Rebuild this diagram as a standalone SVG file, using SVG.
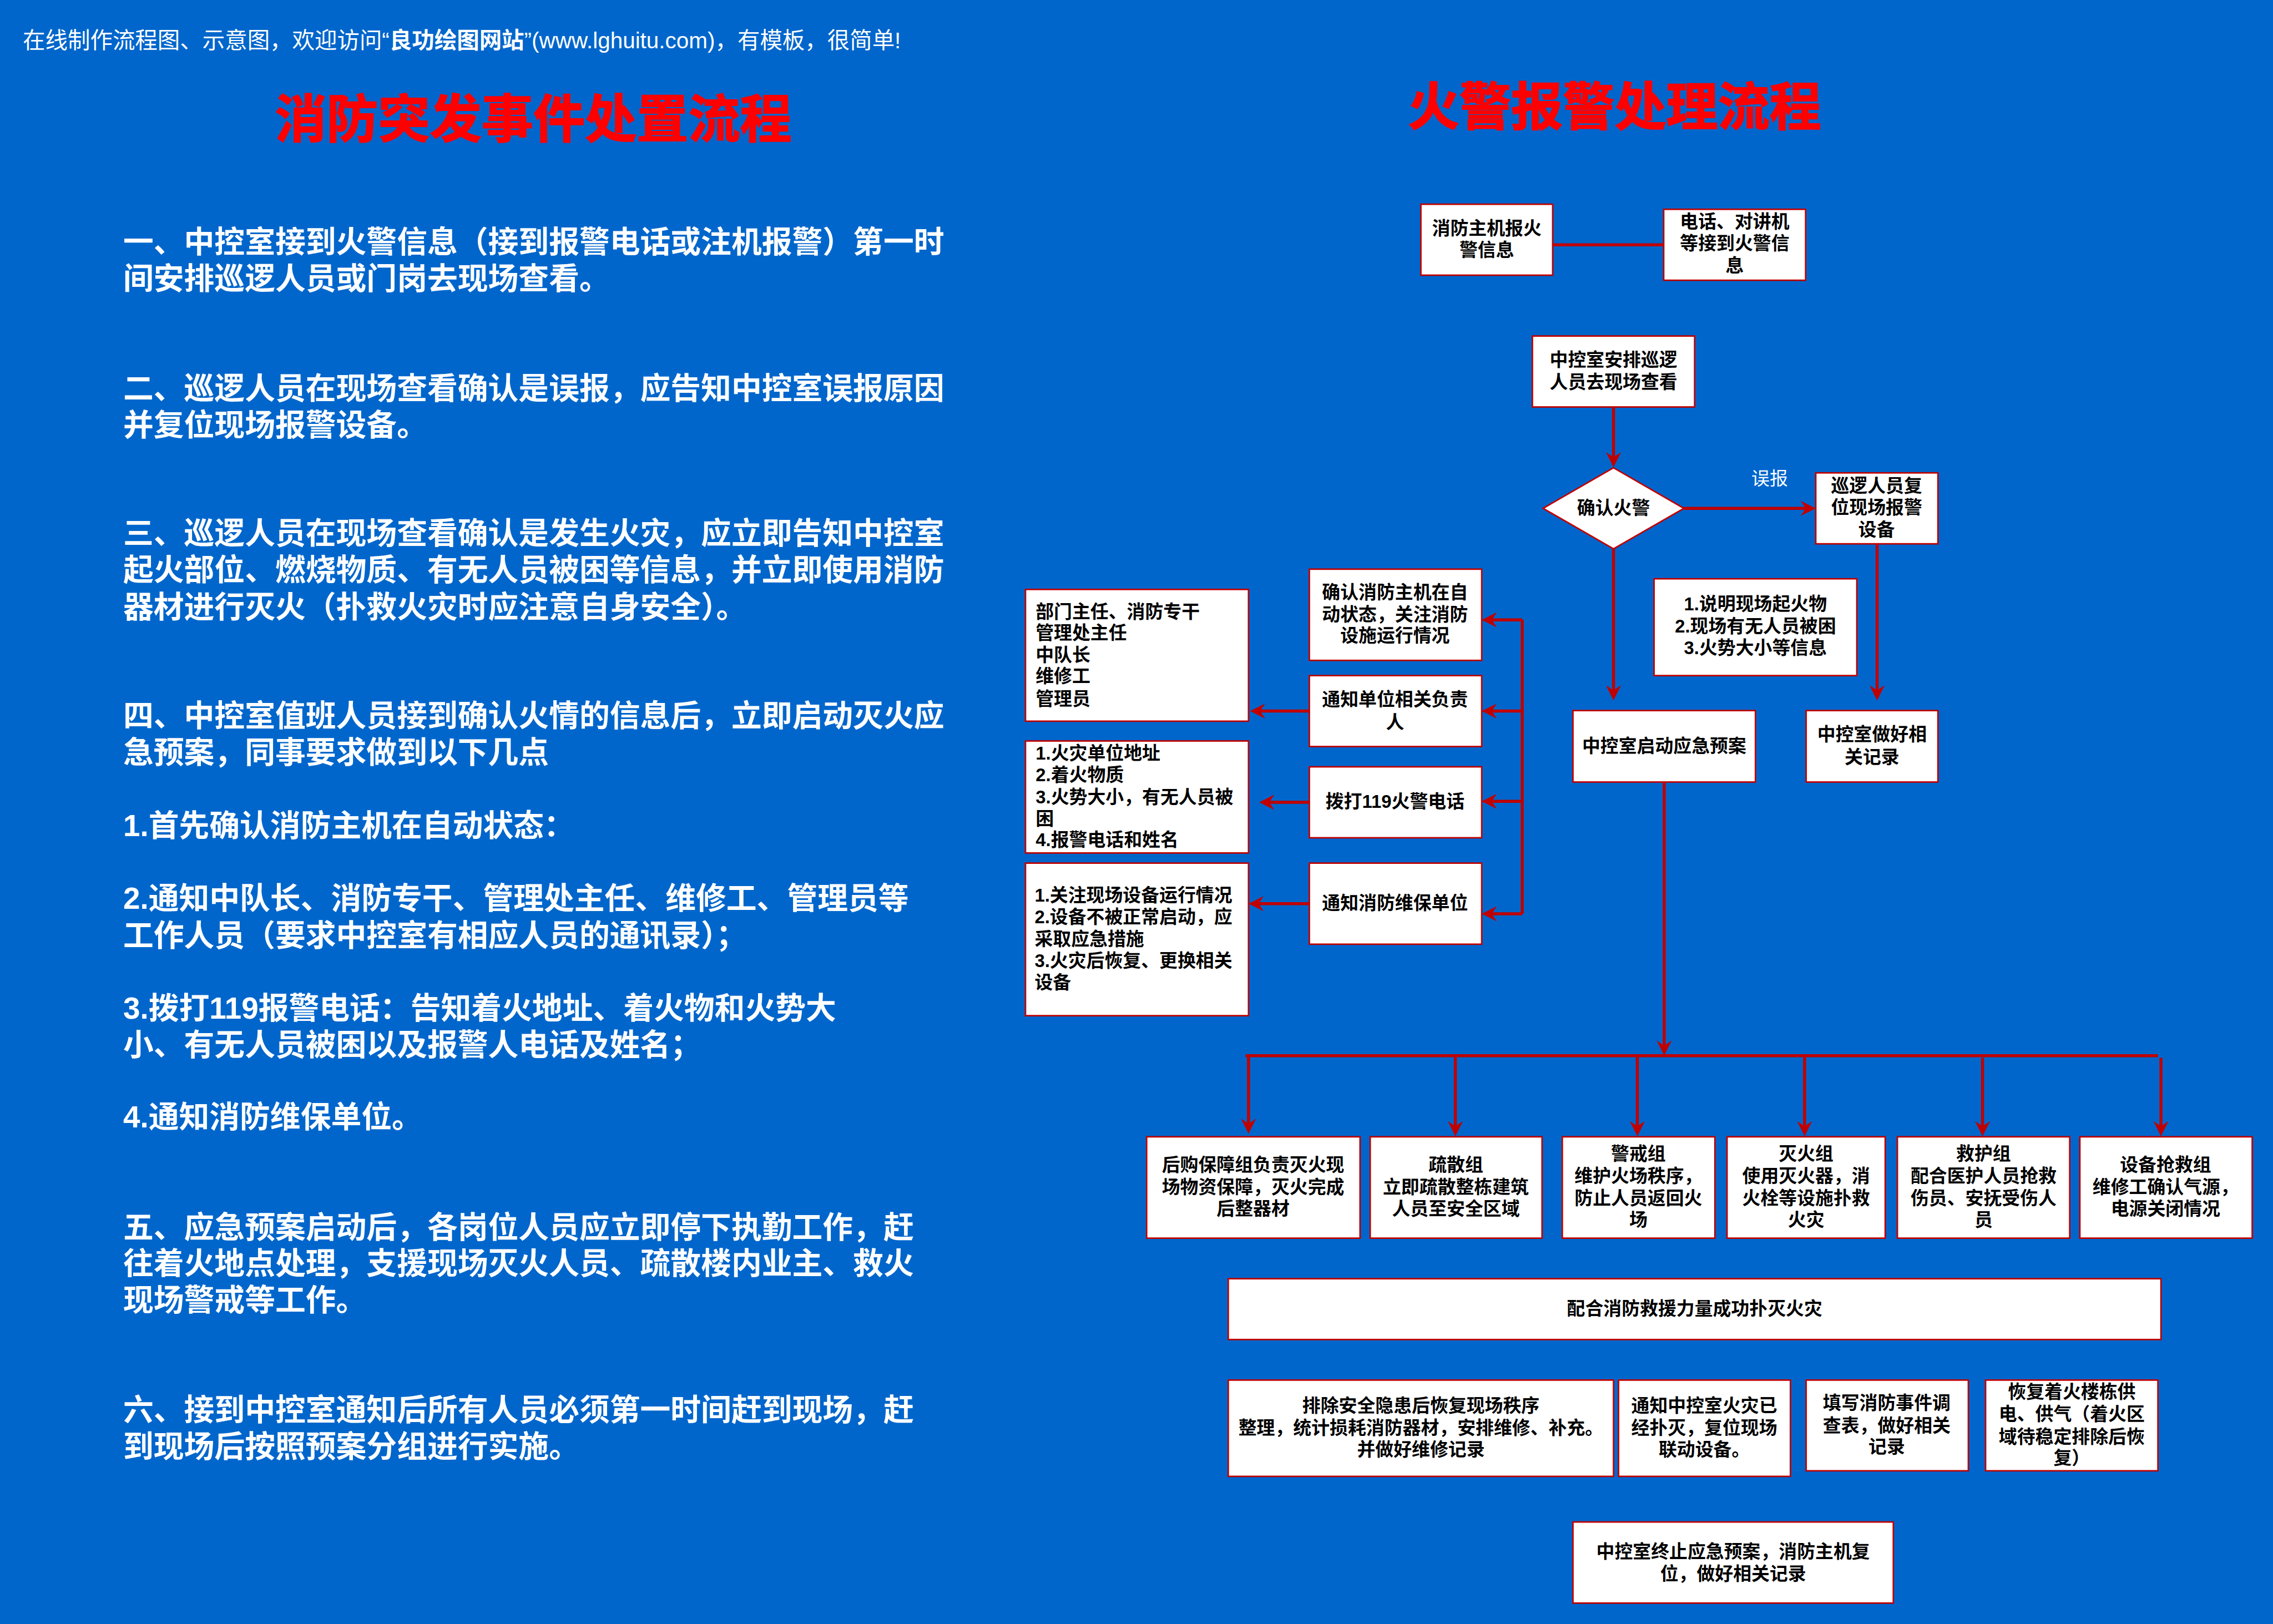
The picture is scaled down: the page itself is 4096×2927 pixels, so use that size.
<svg xmlns="http://www.w3.org/2000/svg" width="4096" height="2927" viewBox="0 0 4096 2927">
<style>
text{font-family:"Liberation Sans","Noto Sans CJK SC",sans-serif}
.b{fill:#fff;stroke:#c00000;stroke-width:3}
.t{font-size:36px;font-weight:700;fill:#000;text-anchor:middle}
.l{font-size:36px;font-weight:700;fill:#000}
.p{font-size:60px;font-weight:700;fill:#fff}
.h{font-size:102px;font-weight:700;fill:#f00;stroke:#f00;stroke-width:2;text-anchor:middle}
.c{fill:none;stroke:#c00000;stroke-width:6}
.a{marker-end:url(#ah)}
</style>
<defs><marker id="ah" markerUnits="userSpaceOnUse" markerWidth="34" markerHeight="34" refX="22" refY="17" orient="auto"><path d="M30 17L0 2L10 17L0 32Z" fill="#c00000"/></marker></defs>
<rect width="4096" height="2927" fill="#0066cc"/>
<g transform="scale(0.91347)">
<g id="header"><text x="45" y="95" font-size="44.3" fill="#fff">在线制作流程图、示意图，欢迎访问“<tspan font-weight="700">良功绘图网站</tspan>”(www.lghuitu.com)，有模板，很简单!</text></g>
<g id="title-left"><text class="h" x="1052" y="272">消防突发事件处置流程</text></g>
<g id="title-right"><text class="h" x="3185" y="247">火警报警处理流程</text></g>
<g id="left-text">
<text class="p" x="243" y="498">一、中控室接到火警信息（接到报警电话或注机报警）第一时</text>
<text class="p" x="243" y="570">间安排巡逻人员或门岗去现场查看。</text>
<text class="p" x="243" y="787">二、巡逻人员在现场查看确认是误报，应告知中控室误报原因</text>
<text class="p" x="243" y="859">并复位现场报警设备。</text>
<text class="p" x="243" y="1073">三、巡逻人员在现场查看确认是发生火灾，应立即告知中控室</text>
<text class="p" x="243" y="1145">起火部位、燃烧物质、有无人员被困等信息，并立即使用消防</text>
<text class="p" x="243" y="1218">器材进行灭火（扑救火灾时应注意自身安全）。</text>
<text class="p" x="243" y="1433">四、中控室值班人员接到确认火情的信息后，立即启动灭火应</text>
<text class="p" x="243" y="1505">急预案，同事要求做到以下几点</text>
<text class="p" x="243" y="1650">1.首先确认消防主机在自动状态：</text>
<text class="p" x="243" y="1793">2.通知中队长、消防专干、管理处主任、维修工、管理员等</text>
<text class="p" x="243" y="1867">工作人员（要求中控室有相应人员的通讯录）；</text>
<text class="p" x="243" y="2010">3.拨打119报警电话：告知着火地址、着火物和火势大</text>
<text class="p" x="243" y="2082">小、有无人员被困以及报警人电话及姓名；</text>
<text class="p" x="243" y="2225">4.通知消防维保单位。</text>
<text class="p" x="243" y="2442">五、应急预案启动后，各岗位人员应立即停下执勤工作，赶</text>
<text class="p" x="243" y="2514">往着火地点处理，支援现场灭火人员、疏散楼内业主、救火</text>
<text class="p" x="243" y="2586">现场警戒等工作。</text>
<text class="p" x="243" y="2803">六、接到中控室通知后所有人员必须第一时间赶到现场，赶</text>
<text class="p" x="243" y="2875">到现场后按照预案分组进行实施。</text>
</g>
<g id="connectors">
<path class="c" d="M3063 483H3282"/>
<path class="c a" d="M3183 803V914"/>
<path class="c a" d="M3321 1003H3574"/>
<path class="c a" d="M3183 1083V1374"/>
<path class="c a" d="M3703 1073V1374"/>
<path class="c" d="M3003 1223V1803"/>
<path class="c a" d="M3003 1223H2931"/>
<path class="c a" d="M3003 1403H2931"/>
<path class="c a" d="M3003 1581H2931"/>
<path class="c a" d="M3003 1803H2931"/>
<path class="c a" d="M2583 1403H2474"/>
<path class="c a" d="M2583 1583H2492"/>
<path class="c a" d="M2583 1783H2471"/>
<path class="c a" d="M3283 1542V2075"/>
<path class="c" d="M2457 2083H4257"/>
<path class="c a" d="M2463 2083V2229"/>
<path class="c a" d="M2871 2083V2234"/>
<path class="c a" d="M3230 2083V2234"/>
<path class="c a" d="M3560 2083V2234"/>
<path class="c a" d="M3911 2087V2234"/>
<path class="c a" d="M4263 2087V2234"/>
</g>
<g id="n1"><rect class="b" x="2803" y="403" width="260" height="140"/><text class="t" x="2933" y="463">消防主机报火</text><text class="t" x="2933" y="506">警信息</text></g>
<g id="n2"><rect class="b" x="3282" y="413" width="280" height="140"/><text class="t" x="3422" y="450">电话、对讲机</text><text class="t" x="3422" y="493">等接到火警信</text><text class="t" x="3422" y="536">息</text></g>
<g id="n3"><rect class="b" x="3023" y="663" width="320" height="140"/><text class="t" x="3183" y="722">中控室安排巡逻</text><text class="t" x="3183" y="766">人员去现场查看</text></g>
<g id="n4"><path class="b" d="M3183 923L3322 1003L3183 1083L3044 1003Z"/><text class="t" x="3183" y="1015">确认火警</text></g>
<g id="label-wubao"><text x="3491" y="957" font-size="36" fill="#fff" text-anchor="middle">误报</text></g>
<g id="n5"><rect class="b" x="3582" y="933" width="241" height="140"/><text class="t" x="3702" y="971">巡逻人员复</text><text class="t" x="3702" y="1014">位现场报警</text><text class="t" x="3702" y="1057">设备</text></g>
<g id="n6"><rect class="b" x="3263" y="1142" width="400" height="191"/><text class="t" x="3463" y="1204">1.说明现场起火物</text><text class="t" x="3463" y="1248">2.现场有无人员被困</text><text class="t" x="3463" y="1291">3.火势大小等信息</text></g>
<g id="n7"><rect class="b" x="3103" y="1402" width="360" height="141"/><text class="t" x="3283" y="1484">中控室启动应急预案</text></g>
<g id="n8"><rect class="b" x="3563" y="1402" width="260" height="141"/><text class="t" x="3693" y="1462">中控室做好相</text><text class="t" x="3693" y="1506">关记录</text></g>
<g id="n9"><rect class="b" x="2583" y="1123" width="340" height="180"/><text class="t" x="2752" y="1181">确认消防主机在自</text><text class="t" x="2752" y="1225">动状态，关注消防</text><text class="t" x="2752" y="1267">设施运行情况</text></g>
<g id="n10"><rect class="b" x="2583" y="1333" width="340" height="140"/><text class="t" x="2752" y="1393">通知单位相关负责</text><text class="t" x="2752" y="1437">人</text></g>
<g id="n11"><rect class="b" x="2583" y="1513" width="340" height="140"/><text class="t" x="2752" y="1594">拨打119火警电话</text></g>
<g id="n12"><rect class="b" x="2583" y="1703" width="340" height="160"/><text class="t" x="2752" y="1794">通知消防维保单位</text></g>
<g id="n13"><rect class="b" x="2023" y="1163" width="440" height="260"/><text class="l" x="2043" y="1219">部门主任、消防专干</text><text class="l" x="2043" y="1261">管理处主任</text><text class="l" x="2043" y="1305">中队长</text><text class="l" x="2043" y="1347">维修工</text><text class="l" x="2043" y="1391">管理员</text></g>
<g id="n14"><rect class="b" x="2023" y="1462" width="440" height="221"/><text class="l" x="2043" y="1499">1.火灾单位地址</text><text class="l" x="2043" y="1541">2.着火物质</text><text class="l" x="2043" y="1585">3.火势大小，有无人员被</text><text class="l" x="2043" y="1628">困</text><text class="l" x="2043" y="1670">4.报警电话和姓名</text></g>
<g id="n15"><rect class="b" x="2023" y="1703" width="440" height="301"/><text class="l" x="2041" y="1779">1.关注现场设备运行情况</text><text class="l" x="2041" y="1822">2.设备不被正常启动，应</text><text class="l" x="2041" y="1865">采取应急措施</text><text class="l" x="2041" y="1908">3.火灾后恢复、更换相关</text><text class="l" x="2041" y="1951">设备</text></g>
<g id="n16"><rect class="b" x="2262" y="2243" width="421" height="200"/><text class="t" x="2472" y="2311">后购保障组负责灭火现</text><text class="t" x="2472" y="2355">场物资保障，灭火完成</text><text class="t" x="2472" y="2397">后整器材</text></g>
<g id="n17"><rect class="b" x="2703" y="2243" width="339" height="200"/><text class="t" x="2872" y="2311">疏散组</text><text class="t" x="2872" y="2355">立即疏散整栋建筑</text><text class="t" x="2872" y="2397">人员至安全区域</text></g>
<g id="n18"><rect class="b" x="3082" y="2243" width="301" height="200"/><text class="t" x="3232" y="2289">警戒组</text><text class="t" x="3232" y="2333">维护火场秩序，</text><text class="t" x="3232" y="2377">防止人员返回火</text><text class="t" x="3232" y="2419">场</text></g>
<g id="n19"><rect class="b" x="3407" y="2243" width="312" height="200"/><text class="t" x="3563" y="2289">灭火组</text><text class="t" x="3563" y="2333">使用灭火器，消</text><text class="t" x="3563" y="2377">火栓等设施扑救</text><text class="t" x="3563" y="2419">火灾</text></g>
<g id="n20"><rect class="b" x="3743" y="2243" width="340" height="200"/><text class="t" x="3913" y="2289">救护组</text><text class="t" x="3913" y="2333">配合医护人员抢救</text><text class="t" x="3913" y="2377">伤员、安抚受伤人</text><text class="t" x="3913" y="2419">员</text></g>
<g id="n21"><rect class="b" x="4103" y="2243" width="340" height="200"/><text class="t" x="4272" y="2311">设备抢救组</text><text class="t" x="4272" y="2355">维修工确认气源，</text><text class="t" x="4272" y="2397">电源关闭情况</text></g>
<g id="n22"><rect class="b" x="2423" y="2523" width="1840" height="120"/><text class="t" x="3343" y="2594">配合消防救援力量成功扑灭火灾</text></g>
<g id="n23"><rect class="b" x="2423" y="2723" width="760" height="190"/><text class="t" x="2803" y="2786">排除安全隐患后恢复现场秩序</text><text class="t" x="2803" y="2830">整理，统计损耗消防器材，安排维修、补充。</text><text class="t" x="2803" y="2873">并做好维修记录</text></g>
<g id="n24"><rect class="b" x="3193" y="2723" width="339" height="190"/><text class="t" x="3362" y="2786">通知中控室火灾已</text><text class="t" x="3362" y="2830">经扑灭，复位现场</text><text class="t" x="3362" y="2873">联动设备。</text></g>
<g id="n25"><rect class="b" x="3563" y="2723" width="320" height="179"/><text class="t" x="3722" y="2781">填写消防事件调</text><text class="t" x="3722" y="2825">查表，做好相关</text><text class="t" x="3722" y="2867">记录</text></g>
<g id="n26"><rect class="b" x="3917" y="2723" width="340" height="179"/><text class="t" x="4087" y="2759">恢复着火楼栋供</text><text class="t" x="4087" y="2803">电、供气（着火区</text><text class="t" x="4087" y="2847">域待稳定排除后恢</text><text class="t" x="4087" y="2889">复）</text></g>
<g id="n27"><rect class="b" x="3103" y="3003" width="632" height="160"/><text class="t" x="3419" y="3074">中控室终止应急预案，消防主机复</text><text class="t" x="3419" y="3118">位，做好相关记录</text></g>
</g>
</svg>
